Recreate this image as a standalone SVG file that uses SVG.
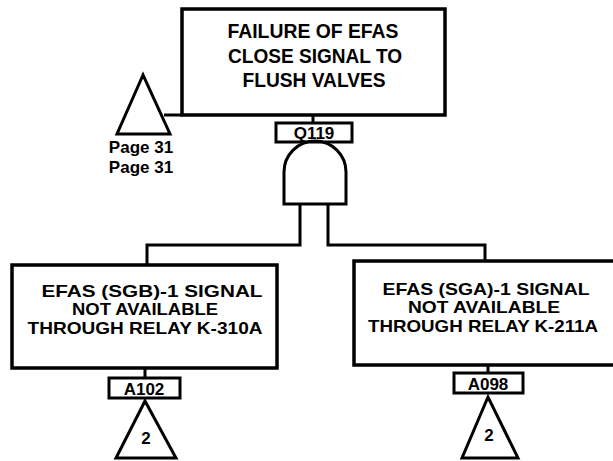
<svg xmlns="http://www.w3.org/2000/svg" width="613" height="461" viewBox="0 0 613 461">
  <style>
    .box { fill: #fff; stroke: #000; stroke-width: 3.5; }
    .tag { fill: #fff; stroke: #000; stroke-width: 3; }
    .wire { fill: none; stroke: #000; stroke-width: 3; }
    .lbl { font-family: "Liberation Sans", Arial, sans-serif; font-weight: bold; fill: #000; text-anchor: middle; }
    .big { font-size: 21px; }
    .mid { font-size: 16.5px; }
    .sm { font-size: 17px; }
  </style>

  <!-- connectors -->
  <g id="connectors">
    <line class="wire" x1="313" y1="115" x2="313" y2="123"/>
    <line class="wire" x1="164" y1="115" x2="182" y2="115"/>
    <polyline class="wire" points="300,204 300,245 147,245 147,265"/>
    <polyline class="wire" points="328,204 328,245 485,245 485,261"/>
    <line class="wire" x1="145" y1="368" x2="145" y2="378"/>
    <line class="wire" x1="488" y1="365" x2="488" y2="373"/>
  </g>

  <!-- top event -->
  <g id="top-event">
    <rect class="box" x="182" y="9" width="263" height="106"/>
    <text class="lbl big" x="313" y="38" textLength="171" lengthAdjust="spacingAndGlyphs">FAILURE OF EFAS</text>
    <text class="lbl big" x="315" y="63" textLength="174" lengthAdjust="spacingAndGlyphs">CLOSE SIGNAL TO</text>
    <text class="lbl big" x="314" y="87" textLength="143" lengthAdjust="spacingAndGlyphs">FLUSH VALVES</text>
  </g>

  <!-- transfer to page 31 -->
  <g id="transfer-page31">
    <polygon class="wire" points="143,75 117,134 170,134"/>
    <text class="lbl sm" x="141" y="153">Page 31</text>
    <text class="lbl sm" x="141" y="173">Page 31</text>
  </g>

  <!-- AND gate Q119 -->
  <g id="gate-q119">
    <rect class="tag" x="276" y="123" width="76" height="19"/>
    <text class="lbl sm" x="314" y="139">Q119</text>
    <path class="wire" d="M284,204 L284,172 A30,30 0 0 1 346,172 L346,204 Z" fill="#fff"/>
  </g>

  <!-- left event -->
  <g id="event-a102">
    <rect class="box" x="12" y="265" width="265" height="103"/>
    <text class="lbl mid" x="152" y="297" textLength="221" lengthAdjust="spacingAndGlyphs">EFAS (SGB)-1 SIGNAL</text>
    <text class="lbl mid" x="145" y="315" textLength="146" lengthAdjust="spacingAndGlyphs">NOT AVAILABLE</text>
    <text class="lbl mid" x="145" y="334" textLength="235" lengthAdjust="spacingAndGlyphs">THROUGH RELAY K-310A</text>
    <rect class="tag" x="109" y="378" width="71" height="20"/>
    <text class="lbl sm" x="144" y="395">A102</text>
    <polygon class="wire" points="145,401 116,458 176,458"/>
    <text class="lbl sm" x="146" y="444">2</text>
  </g>

  <!-- right event -->
  <g id="event-a098">
    <path class="box" d="M616,261 L354,261 L354,365 L616,365"/>
    <text class="lbl mid" x="486" y="295" textLength="207" lengthAdjust="spacingAndGlyphs">EFAS (SGA)-1 SIGNAL</text>
    <text class="lbl mid" x="484" y="313" textLength="152" lengthAdjust="spacingAndGlyphs">NOT AVAILABLE</text>
    <text class="lbl mid" x="483" y="332" textLength="230" lengthAdjust="spacingAndGlyphs">THROUGH RELAY K-211A</text>
    <rect class="tag" x="454" y="373" width="69" height="20"/>
    <text class="lbl sm" x="488" y="390">A098</text>
    <polygon class="wire" points="488,397 462,458 518,458"/>
    <text class="lbl sm" x="489" y="441">2</text>
  </g>
</svg>
